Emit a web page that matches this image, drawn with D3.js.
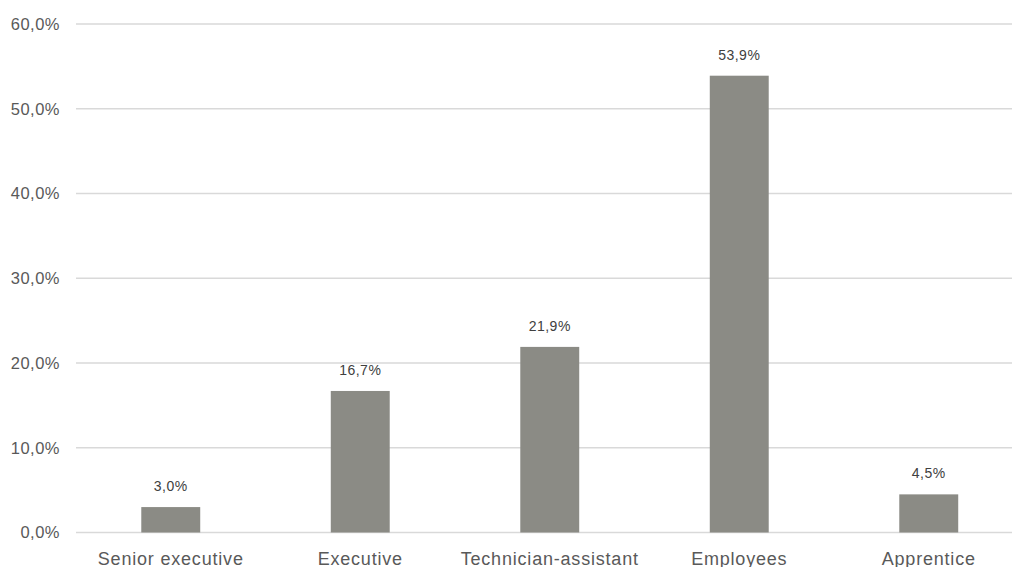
<!DOCTYPE html>
<html>
<head>
<meta charset="utf-8">
<script src="https://cdn.jsdelivr.net/npm/d3@7"></script>
<style>
  html, body { margin: 0; padding: 0; background: #fff; }
  svg { display: block; font-family: "Liberation Sans", Arial, sans-serif; }
</style>
</head>
<body>
<svg id="chart" width="1012" height="567"></svg>
<script>
// Share of staff by job category (%)
const categories = ["Senior executive", "Executive", "Technician-assistant", "Employees", "Apprentice"];
const shares = [3.0, 16.7, 21.9, 53.9, 4.5];
const yTicks = [0, 10, 20, 30, 40, 50, 60];

(function draw() {
  const svg = d3.select("#chart");
  const m = { left: 76, right: 1023.5, top: 24, bottom: 532.5 };

  const fmt = v => d3.format(".1f")(v).replace(".", ",") + "%";

  const x = d3.scaleBand().domain(categories).range([m.left, m.right]).padding(0);
  const y = d3.scaleLinear().domain([0, 60]).range([m.bottom, m.top]);
  const barW = x.bandwidth() * 0.311;

  // horizontal gridlines
  svg.append("g")
    .selectAll("line")
    .data(yTicks)
    .join("line")
    .attr("x1", m.left).attr("x2", m.right)
    .attr("y1", d => y(d)).attr("y2", d => y(d))
    .attr("stroke", "#d9d9d9")
    .attr("stroke-width", 1.5);

  // y axis labels
  const yAxis = d3.axisLeft(y).tickValues(yTicks).tickFormat(fmt).tickSize(0).tickPadding(0);
  const gy = svg.append("g").attr("transform", `translate(${m.left - 16},0)`).call(yAxis);
  gy.select(".domain").remove();
  gy.selectAll("text")
    .attr("fill", "#595959")
    .style("font-size", "16.5px")
    .style("letter-spacing", "0.5px")
    .style("font-family", "Liberation Sans, Arial, sans-serif");

  // bars
  svg.append("g")
    .selectAll("rect")
    .data(shares)
    .join("rect")
    .attr("x", (d, i) => x(categories[i]) + x.bandwidth() / 2 - barW / 2)
    .attr("y", d => y(d))
    .attr("width", barW)
    .attr("height", d => y(0) - y(d))
    .attr("fill", "#8b8b85");

  // value labels
  svg.append("g")
    .selectAll("text")
    .data(shares)
    .join("text")
    .attr("x", (d, i) => x(categories[i]) + x.bandwidth() / 2)
    .attr("y", d => y(d) - 16)
    .attr("text-anchor", "middle")
    .attr("fill", "#404040")
    .style("font-size", "14px")
    .style("letter-spacing", "0.5px")
    .text(fmt);

  // category labels
  const xAxis = d3.axisBottom(x).tickSize(0).tickPadding(0);
  const gx = svg.append("g").attr("transform", `translate(0,${m.bottom})`).call(xAxis);
  gx.select(".domain").remove();
  gx.selectAll("text")
    .attr("y", 32)
    .attr("dy", null)
    .attr("fill", "#595959")
    .style("font-size", "18px")
    .style("letter-spacing", "0.8px")
    .style("font-family", "Liberation Sans, Arial, sans-serif");
})();
</script>
</body>
</html>
